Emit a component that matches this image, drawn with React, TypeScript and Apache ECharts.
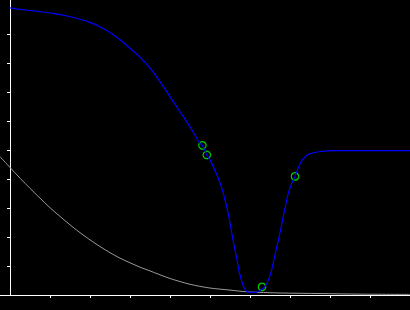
import React, { useEffect, useRef } from "react";
import * as echarts from "echarts";

// [x, y] points
const blueCurve: number[][] = [
  [0, 9.9], [0.25, 9.85], [0.75, 9.77], [1.075, 9.71], [1.425, 9.62], [1.75, 9.51],
  [2.0, 9.4], [2.25, 9.25], [2.5, 9.05], [2.75, 8.8], [3.0, 8.51], [3.25, 8.2],
  [3.5, 7.82], [3.75, 7.36], [4.0, 6.84], [4.25, 6.32], [4.5, 5.8], [4.75, 5.23],
  [4.81, 5.16], [4.92, 4.83], [5.0, 4.66], [5.175, 4.14], [5.25, 3.86], [5.325, 3.55],
  [5.375, 3.28], [5.425, 3.0], [5.5, 2.48], [5.575, 1.9], [5.625, 1.55], [5.675, 1.21],
  [5.71, 0.93], [5.75, 0.69], [5.825, 0.34], [5.89, 0.17], [5.95, 0.1], [6.125, 0.09],
  [6.2, 0.12], [6.375, 0.29], [6.46, 0.52], [6.54, 0.86], [6.625, 1.38], [6.71, 1.9],
  [6.79, 2.41], [6.875, 3.0], [6.96, 3.52], [7.04, 3.84], [7.125, 4.09], [7.21, 4.4],
  [7.29, 4.62], [7.375, 4.76], [7.46, 4.85], [7.71, 4.94], [8.125, 4.98], [10, 4.98],
];

const grayCurve: number[][] = [
  [-0.25, 4.77], [0, 4.4], [0.25, 4.03], [0.5, 3.68], [0.75, 3.34], [1.0, 3.01],
  [1.25, 2.71], [1.5, 2.42], [1.75, 2.15], [2.0, 1.9], [2.25, 1.67], [2.5, 1.46],
  [2.75, 1.27], [3.0, 1.11], [3.25, 0.96], [3.5, 0.83], [4.0, 0.57], [4.5, 0.37],
  [5.0, 0.24], [5.5, 0.17], [5.925, 0.11], [6.75, 0.07], [7.75, 0.05], [8.75, 0.03],
  [10, 0.02],
];

const markers: number[][] = [[4.81, 5.16], [4.92, 4.83], [6.3, 0.28], [7.125, 4.09]];

const tickValues = [1, 2, 3, 4, 5, 6, 7, 8, 9];

export default function App() {
  const ref = useRef<HTMLDivElement>(null);
  useEffect(() => {
    if (!ref.current) return;
    const chart = echarts.init(ref.current, null, { renderer: "svg" });
    const axisCommon = {
      type: "value" as const,
      axisLine: { show: true, onZero: true, lineStyle: { color: "#ffffff", width: 1 } },
      axisTick: { show: true, length: 3, lineStyle: { color: "#ffffff", width: 1 }, customValues: tickValues },
      axisLabel: { show: false },
      splitLine: { show: false },
    };
    chart.setOption({
      animation: false,
      backgroundColor: "#000000",
      grid: { left: 0, right: 0, top: 0, bottom: 15, containLabel: false },
      xAxis: { ...axisCommon, min: -0.25, max: 10 },
      yAxis: { ...axisCommon, min: 0, max: 295 / 29 },
      series: [
        {
          type: "line",
          data: grayCurve,
          showSymbol: false,
          smooth: 0.3,
          lineStyle: { color: "#999999", width: 1 },
        },
        {
          type: "line",
          data: blueCurve,
          showSymbol: false,
          smooth: 0.3,
          lineStyle: { color: "#0000ff", width: 1.2 },
        },
        {
          type: "scatter",
          data: markers,
          symbol: "circle",
          symbolSize: 7.5,
          itemStyle: { color: "rgba(0,0,0,0)", borderColor: "#00ff00", borderWidth: 1.2 },
        },
      ],
    });
    return () => chart.dispose();
  }, []);
  return (
    <div
      ref={ref}
      style={{ position: "fixed", left: 0, top: 0, width: 410, height: 310, background: "#000" }}
    />
  );
}
